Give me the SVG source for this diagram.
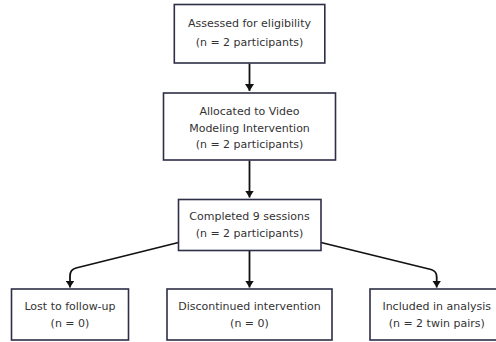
<svg xmlns="http://www.w3.org/2000/svg" width="496" height="342" viewBox="0 0 496 342">
<style>
.box{fill:#ffffff;stroke:#2e2e48;stroke-width:1.6}
.t{font-family:"DejaVu Sans",sans-serif;font-size:11px;fill:#333333;text-anchor:middle}
.c{fill:none;stroke:#111111;stroke-width:1.8}
</style>
<defs>
<marker id="ah" viewBox="0 0 7 9" refX="7" refY="4.5" markerWidth="7" markerHeight="9" markerUnits="userSpaceOnUse" orient="auto">
<path d="M0,0 L7,4.5 L0,9 z" fill="#111111"/>
</marker>
</defs>
<rect width="496" height="342" fill="#ffffff"/>
<g id="connectors">
<path class="c" d="M249.5,63.5 L249.5,91" marker-end="url(#ah)"/>
<path class="c" d="M249.5,160.5 L249.5,197.5" marker-end="url(#ah)"/>
<path class="c" d="M249.5,250.5 L249.5,287.5" marker-end="url(#ah)"/>
<path class="c" d="M178.5,242.5 L76,268 Q70,269.5 70,276 L70,287.5" marker-end="url(#ah)"/>
<path class="c" d="M321,242.5 L431,269.5 Q436.7,271 436.7,277 L436.7,287.5" marker-end="url(#ah)"/>
</g>
<g id="n1">
<rect class="box" x="174.3" y="4.5" width="150.5" height="58.5"/>
<text class="t" x="249.5" y="27">Assessed for eligibility</text>
<text class="t" x="249.5" y="46">(n = 2 participants)</text>
</g>
<g id="n2">
<rect class="box" x="163.5" y="93" width="172" height="67"/>
<text class="t" x="249.5" y="115">Allocated to Video</text>
<text class="t" x="249.5" y="131.5">Modeling Intervention</text>
<text class="t" x="249.5" y="148">(n = 2 participants)</text>
</g>
<g id="n3">
<rect class="box" x="178.5" y="199.5" width="142.5" height="51"/>
<text class="t" x="249.5" y="220">Completed 9 sessions</text>
<text class="t" x="249.5" y="237">(n = 2 participants)</text>
</g>
<g id="n4">
<rect class="box" x="11.5" y="289" width="117" height="51"/>
<text class="t" x="70" y="310">Lost to follow-up</text>
<text class="t" x="70" y="327">(n = 0)</text>
</g>
<g id="n5">
<rect class="box" x="167" y="289" width="165" height="51"/>
<text class="t" x="249.5" y="310">Discontinued intervention</text>
<text class="t" x="249.5" y="327">(n = 0)</text>
</g>
<g id="n6">
<rect class="box" x="370" y="289" width="133.4" height="51"/>
<text class="t" x="436.7" y="310">Included in analysis</text>
<text class="t" x="436.7" y="327">(n = 2 twin pairs)</text>
</g>
</svg>
